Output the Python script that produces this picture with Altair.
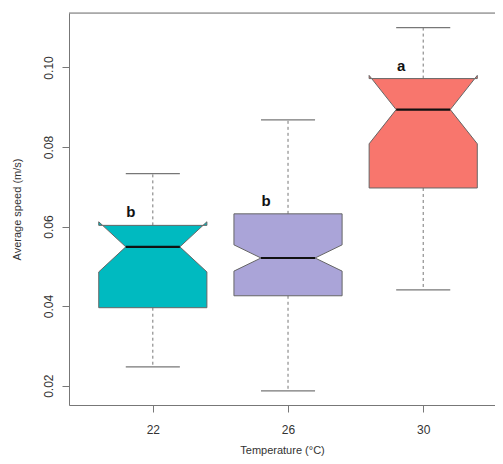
import json
import altair as alt
import pandas as pd

# ---- data ----
temps = ["22", "26", "30"]
positions = [1, 2, 3]
whisker_low = [0.0247, 0.0187, 0.0441]
q1 = [0.0396, 0.0426, 0.0697]
median = [0.0549, 0.0521, 0.0894]
q3 = [0.0603, 0.0632, 0.0972]
whisker_high = [0.0733, 0.0868, 0.1100]
notch_low = [0.0486, 0.0488, 0.0808]
notch_high = [0.0612, 0.0554, 0.0980]
letters = ["b", "b", "a"]
fills = ["#00BAC0", "#AAA4D8", "#F8766D"]

W = 0.4      # half box width (category units)
CAP = 0.2    # half whisker-cap width

# ---- build notched-box polygons (as horizontal areas) ----
rows = []
for i, t in enumerate(temps):
    c = positions[i]
    def add(part, y, xl, xr):
        rows.append(dict(g=t, part=f"{t}-{part}", y=y, xl=xl, xr=xr))
    add("body", q1[i], c - W, c + W)
    add("body", notch_low[i], c - W, c + W)
    add("body", median[i], c - W / 2, c + W / 2)
    if notch_high[i] <= q3[i]:
        add("body", notch_high[i], c - W, c + W)
        add("body", q3[i], c - W, c + W)
    else:
        xd = W / 2 + W / 2 * (q3[i] - median[i]) / (notch_high[i] - median[i])
        add("body", q3[i], c - xd, c + xd)
        add("tipL", q3[i], c - W, c - xd)
        add("tipL", notch_high[i], c - W, c - W)
        add("tipR", q3[i], c + xd, c + W)
        add("tipR", notch_high[i], c + W, c + W)
poly = pd.DataFrame(rows)

whisk = pd.DataFrame(
    [dict(x=positions[i], y=q3[i], y2=whisker_high[i]) for i in range(3)]
    + [dict(x=positions[i], y=q1[i], y2=whisker_low[i]) for i in range(3)]
)
caps = pd.DataFrame(
    [dict(x=positions[i] - CAP, x2=positions[i] + CAP, y=whisker_high[i]) for i in range(3)]
    + [dict(x=positions[i] - CAP, x2=positions[i] + CAP, y=whisker_low[i]) for i in range(3)]
)
meds = pd.DataFrame(
    [dict(x=positions[i] - W / 2, x2=positions[i] + W / 2, y=median[i]) for i in range(3)]
)
labs = pd.DataFrame([dict(x=positions[i], y=q3[i], t=letters[i]) for i in range(3)])

FONT = "Liberation Sans"
AX = "#777777"
TXT = "#333333"

PW, PH = 426, 392
xscale = alt.Scale(domain=[0.38, 3.531], nice=False, zero=False)
yscale = alt.Scale(domain=[0.01514, 0.11369], nice=False, zero=False)

xaxis = alt.Axis(
    values=positions,
    labelExpr=f"{json.dumps(temps)}[datum.value - 1]",
    grid=False, domainColor=AX, tickColor=AX, tickSize=7,
    labelFontSize=12, labelColor=TXT, labelBaseline="middle", labelPadding=17,
    labelFont=FONT,
    title="Temperature (°C)", titleFontSize=11, titleFontWeight="normal",
    titleColor=TXT, titleFont=FONT, titleY=45, titleBaseline="middle",
)
yaxis = alt.Axis(
    values=[0.02, 0.04, 0.06, 0.08, 0.10], format=".2f",
    grid=False, domainColor=AX, tickColor=AX, tickSize=7,
    labelFontSize=12, labelColor=TXT, labelAngle=270, labelAlign="center",
    labelBaseline="alphabetic", labelPadding=10, labelFont=FONT,
    title="Average speed (m/s)", titleFontSize=11, titleFontWeight="normal",
    titleColor=TXT, titleFont=FONT, titleAngle=270, titleX=-52, titleY=196,
    titleBaseline="middle", titleAlign="center",
)

boxes = alt.Chart(poly).mark_area(
    orient="horizontal", stroke="#666666", strokeWidth=1, opacity=1
).encode(
    y=alt.Y("y:Q", scale=yscale, axis=yaxis),
    x=alt.X("xl:Q", scale=xscale, axis=xaxis, stack=None),
    x2="xr:Q",
    color=alt.Color("g:N", scale=alt.Scale(domain=temps, range=fills), legend=None),
    detail="part:N",
)

whisk_l = alt.Chart(whisk).mark_rule(color=AX, strokeDash=[3, 3], strokeWidth=1).encode(
    x=alt.X("x:Q", scale=xscale), y=alt.Y("y:Q", scale=yscale), y2="y2:Q"
)
caps_l = alt.Chart(caps).mark_rule(color=AX, strokeWidth=1.2).encode(
    x=alt.X("x:Q", scale=xscale), x2="x2:Q", y=alt.Y("y:Q", scale=yscale)
)
meds_l = alt.Chart(meds).mark_rule(color="#111111", strokeWidth=2.2).encode(
    x=alt.X("x:Q", scale=xscale), x2="x2:Q", y=alt.Y("y:Q", scale=yscale)
)
text_l = alt.Chart(labs).mark_text(
    font=FONT, fontSize=15, fontWeight="bold", color="#111111",
    dx=-22, dy=-13, baseline="middle", align="center"
).encode(x=alt.X("x:Q", scale=xscale), y=alt.Y("y:Q", scale=yscale), text="t:N")

top_rule = alt.Chart(pd.DataFrame({"a": [0]})).mark_rule(color=AX, strokeWidth=1).encode(
    x=alt.value(0), x2=alt.value(PW), y=alt.value(0)
)

chart = alt.layer(whisk_l, caps_l, boxes, meds_l, text_l, top_rule).properties(
    width=PW, height=PH,
    autosize=alt.AutoSizeParams(type="none"),
    padding={"left": 61, "top": 5, "right": 0, "bottom": 51},
).configure_view(stroke=None).configure(background="white")

chart.save("out.html", embed_options={"renderer": "svg", "actions": False})
